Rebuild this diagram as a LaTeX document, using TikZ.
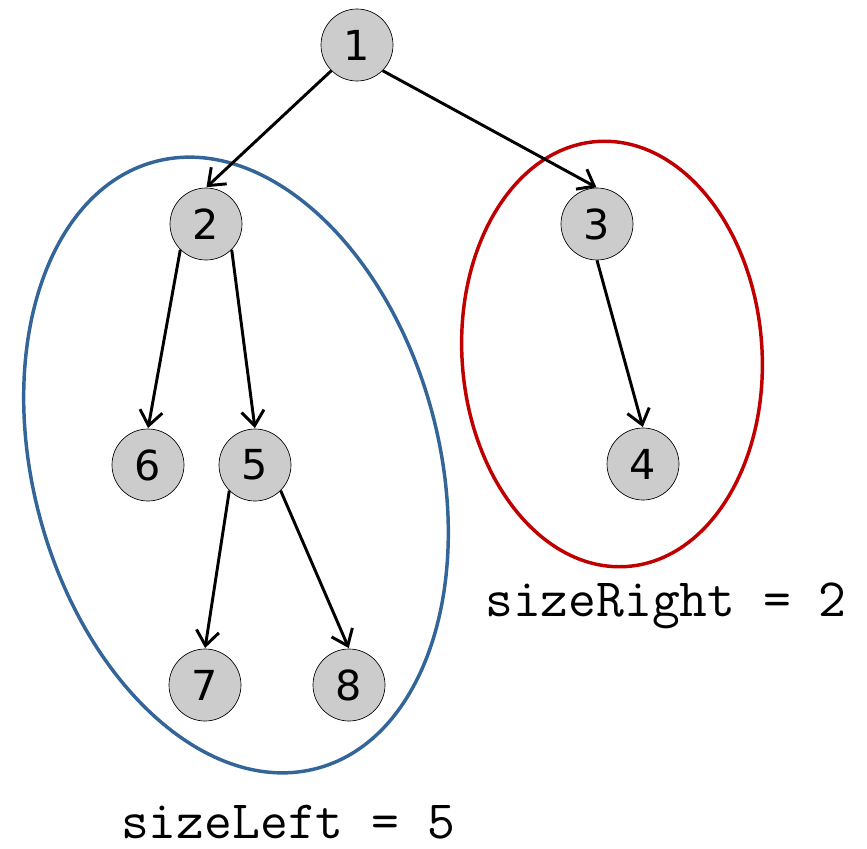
\documentclass[tikz,border=0pt]{standalone}
\usepackage{fontspec}
\setmainfont{DejaVu Sans}
\usetikzlibrary{arrows.meta}
\definecolor{bluering}{RGB}{52,101,153}
\definecolor{redring}{RGB}{192,0,0}
\definecolor{nodegray}{RGB}{204,204,204}
\begin{document}
\begin{tikzpicture}[x=0.75pt,y=-0.75pt,
  tnode/.style={circle,draw=black,line width=0.5pt,fill=nodegray,minimum size=54pt,inner sep=0pt,font=\fontsize{31}{31}\selectfont},
  edge/.style={line width=2.2pt,-{Straight Barb[length=11pt,width=17pt,line width=2.2pt]},shorten >=0.5pt},
  ring/.style={line width=2.6pt},
  lbl/.style={font=\ttfamily\fontsize{40.5}{40.5}\selectfont,inner sep=0pt,anchor=base}]
\useasboundingbox (0,0) rectangle (867,849);
\draw[ring,draw=bluering,rotate around={15:(236,465)}] (236,465) ellipse [x radius=152.25pt,y radius=235.5pt];
\draw[ring,draw=redring,rotate around={4:(612,354)}] (612,354) ellipse [x radius=112.5pt,y radius=159.75pt];
\node[tnode] (n1) at (357,45) {1};
\node[tnode] (n2) at (206,224) {2};
\node[tnode] (n3) at (597,224) {3};
\node[tnode] (n6) at (148,465) {6};
\node[tnode] (n5) at (255,465) {5};
\node[tnode] (n4) at (643,464) {4};
\node[tnode] (n7) at (205,685) {7};
\node[tnode] (n8) at (349,685) {8};
\draw[edge] (n1.south west) -- (n2.north);
\draw[edge] (n1.south east) -- (n3.north);
\draw[edge] (n2.south west) -- (n6.north);
\draw[edge] (n2.south east) -- (n5.north);
\draw[edge] (n5.south west) -- (n7.north);
\draw[edge] (n5.south east) -- (n8.north);
\draw[edge] (n3.south) -- (n4.north);
\node[lbl] (sr) at (666,616) {sizeRight = 2};
\node[lbl] (sl) at (288,838) {sizeLeft = 5};
\end{tikzpicture}
\end{document}
